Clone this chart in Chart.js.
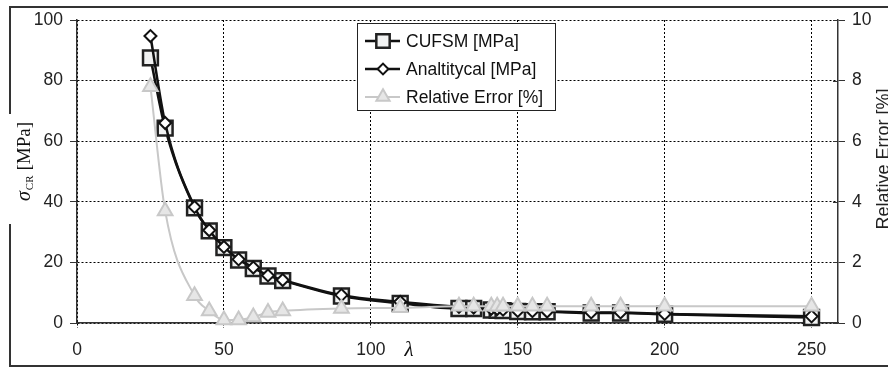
<!DOCTYPE html>
<html>
<head>
<meta charset="utf-8">
<script src="https://cdn.jsdelivr.net/npm/chart.js@4.4.1/dist/chart.umd.min.js"></script>
<style>
  html, body { margin: 0; padding: 0; background: #fff; }
  canvas { display: block; }
</style>
</head>
<body>
<canvas id="myChart" width="888" height="369"></canvas>
<script>
// slenderness values and the three series read along them
const lambda = [25, 30, 40, 45, 50, 55, 60, 65, 70, 90, 110, 130, 135, 141, 143, 145, 150, 155, 160, 175, 185, 200, 250];
const cufsm = [87.5, 64.3, 38, 30.4, 24.9, 20.8, 18, 15.5, 14, 8.9, 6.5, 4.8, 4.8, 4.3, 4.2, 4.1, 3.8, 3.7, 3.7, 3.3, 3.3, 2.9, 1.8];
const analytical = [94.7, 66, 38.3, 30.6, 25.1, 21, 18.3, 15.7, 14.2, 9.2, 7, 5.3, 5.1, 4.7, 4.6, 4.4, 4.0, 3.9, 3.8, 3.5, 3.5, 3.0, 2.2];
const relError = [7.8, 3.7, 0.9, 0.4, 0.1, 0.1, 0.2, 0.35, 0.4, 0.48, 0.5, 0.55, 0.55, 0.55, 0.55, 0.55, 0.55, 0.55, 0.55, 0.55, 0.55, 0.55, 0.55];

const seriesNames = ['CUFSM [MPa]', 'Analtitycal [MPa]', 'Relative Error [%]'];
const xTicks = [0, 50, 100, 150, 200, 250];
const yTicks = [0, 20, 40, 60, 80, 100];
const y2Ticks = [0, 2, 4, 6, 8, 10];

const toPoints = (ys) => lambda.map((x, i) => ({ x: x, y: ys[i] }));

Chart.defaults.font.family = "'Liberation Sans', Arial, sans-serif";
Chart.defaults.font.size = 17.5;
Chart.defaults.color = '#222';

// --------------- frame, axis titles and legend -----------------------
const extras = {
    id: 'extras',
    afterDraw(chart) {
        const ctx = chart.ctx;
        const area = chart.chartArea;

        // outer frame
        ctx.save();
        ctx.strokeStyle = '#333';
        ctx.lineWidth = 2;
        ctx.strokeRect(10, 7, 900, 359);
        ctx.restore();

        // inner half of the right axis ticks
        const y2 = chart.scales.y2;
        ctx.save();
        ctx.strokeStyle = '#333';
        ctx.lineWidth = 1;
        y2Ticks.forEach(v => {
            const py = Math.round(y2.getPixelForValue(v)) + 0.5;
            ctx.beginPath();
            ctx.moveTo(area.right - 5, py);
            ctx.lineTo(area.right, py);
            ctx.stroke();
        });
        ctx.restore();

        // left title: sigma_CR [MPa]
        ctx.save();
        ctx.fillStyle = '#fff';
        ctx.fillRect(4, 114, 32, 110);
        ctx.translate(30, 201);
        ctx.rotate(-Math.PI / 2);
        ctx.fillStyle = '#111';
        ctx.textBaseline = 'alphabetic';
        ctx.textAlign = 'left';
        ctx.font = "italic 20px 'Liberation Serif', 'DejaVu Serif', serif";
        ctx.fillText('\u03C3', 0, 0);
        let w = ctx.measureText('\u03C3').width;
        ctx.font = "11px 'Liberation Serif', 'DejaVu Serif', serif";
        ctx.fillText('CR', w + 1, 3);
        w += ctx.measureText('CR').width + 6;
        ctx.font = "19px 'Liberation Serif', 'DejaVu Serif', serif";
        ctx.fillText('[MPa]', w, 0);
        ctx.restore();

        // right title
        ctx.save();
        ctx.translate(884, 159);
        ctx.rotate(-Math.PI / 2);
        ctx.fillStyle = '#222';
        ctx.textAlign = 'center';
        ctx.textBaseline = 'middle';
        ctx.font = "18px 'Liberation Sans', Arial, sans-serif";
        ctx.fillText(seriesNames[2], 0, 0);
        ctx.restore();

        // lambda under the x axis
        ctx.save();
        ctx.fillStyle = '#111';
        ctx.textAlign = 'center';
        ctx.textBaseline = 'middle';
        ctx.font = "italic 21px 'Liberation Serif', 'DejaVu Serif', serif";
        ctx.fillText('\u03BB', 409, 350);
        ctx.restore();

        // legend
        const box = { x: 357.5, y: 23.5, w: 198, h: 87 };
        ctx.save();
        ctx.fillStyle = '#fff';
        ctx.fillRect(box.x, box.y, box.w, box.h);
        ctx.strokeStyle = '#222';
        ctx.lineWidth = 1;
        ctx.strokeRect(box.x, box.y, box.w, box.h);
        chart.data.datasets.forEach((ds, i) => {
            const cy = 41 + i * 28;
            ctx.strokeStyle = ds.borderColor;
            ctx.lineWidth = ds.borderWidth;
            ctx.beginPath();
            ctx.moveTo(365, cy);
            ctx.lineTo(400, cy);
            ctx.stroke();
            ctx.fillStyle = ds.pointBackgroundColor;
            ctx.strokeStyle = ds.pointBorderColor;
            ctx.lineWidth = ds.pointBorderWidth;
            Chart.helpers.drawPoint(ctx, {
                pointStyle: ds.pointStyle,
                rotation: 0,
                radius: ds.pointRadius * 0.9,
                borderWidth: ds.pointBorderWidth
            }, 383, cy);
            ctx.fillStyle = '#111';
            ctx.textAlign = 'left';
            ctx.textBaseline = 'middle';
            ctx.font = "17.5px 'Liberation Sans', Arial, sans-serif";
            ctx.fillText(ds.label, 406, cy + 1);
        });
        ctx.restore();
    }
};

const ctx = document.getElementById('myChart').getContext('2d');
const myChart = new Chart(ctx, {
    type: 'line',
    data: {
        datasets: [{
            label: seriesNames[0],
            data: toPoints(cufsm),
            yAxisID: 'y',
            borderColor: '#111',
            borderWidth: 2.5,
            pointStyle: 'rect',
            pointRadius: 10.5,
            pointBackgroundColor: '#f1f2f2',
            pointBorderColor: '#222',
            pointBorderWidth: 2.5,
            cubicInterpolationMode: 'monotone',
            clip: false,
            order: 3
        }, {
            label: seriesNames[1],
            data: toPoints(analytical),
            yAxisID: 'y',
            borderColor: '#111',
            borderWidth: 2.5,
            pointStyle: 'rectRot',
            pointRadius: 6,
            pointBackgroundColor: '#fff',
            pointBorderColor: '#111',
            pointBorderWidth: 2,
            cubicInterpolationMode: 'monotone',
            clip: false,
            order: 2
        }, {
            label: seriesNames[2],
            data: toPoints(relError),
            yAxisID: 'y2',
            borderColor: '#c8c8c8',
            borderWidth: 2,
            pointStyle: 'triangle',
            pointRadius: 8.5,
            pointBackgroundColor: '#e6e6e6',
            pointBorderColor: '#c8c8c8',
            pointBorderWidth: 2,
            cubicInterpolationMode: 'monotone',
            clip: false,
            order: 1
        }]
    },
    options: {
        responsive: false,
        animation: false,
        events: [],
        layout: { padding: { top: 20, left: 0, right: 0, bottom: 0 } },
        plugins: { legend: { display: false }, tooltip: { enabled: false } },
        scales: {
            x: {
                type: 'linear',
                min: 0,
                max: 259,
                afterBuildTicks: s => { s.ticks = xTicks.map(v => ({ value: v })); },
                ticks: { padding: 12, maxRotation: 0 },
                grid: { color: '#000', lineWidth: 1, tickLength: 5, tickColor: '#000', tickBorderDash: [2, 2] },
                border: { color: '#333', width: 1.5, dash: [2, 2] },
                afterFit: s => { s.height = 46; }
            },
            y: {
                position: 'left',
                min: 0,
                max: 100,
                afterBuildTicks: s => { s.ticks = yTicks.map(v => ({ value: v })); },
                ticks: { padding: 7 },
                grid: { color: '#000', lineWidth: 1, tickLength: 7, tickColor: '#333' },
                border: { color: '#333', width: 1.5, dash: [2, 2] },
                afterFit: s => { s.width = 77; }
            },
            y2: {
                position: 'right',
                min: 0,
                max: 10,
                afterBuildTicks: s => { s.ticks = y2Ticks.map(v => ({ value: v })); },
                ticks: { padding: 7 },
                grid: { drawOnChartArea: false, tickLength: 7, tickColor: '#333' },
                border: { color: '#333', width: 1.5 },
                afterFit: s => { s.width = 50; }
            }
        }
    },
    plugins: [extras]
});
</script>
</body>
</html>
